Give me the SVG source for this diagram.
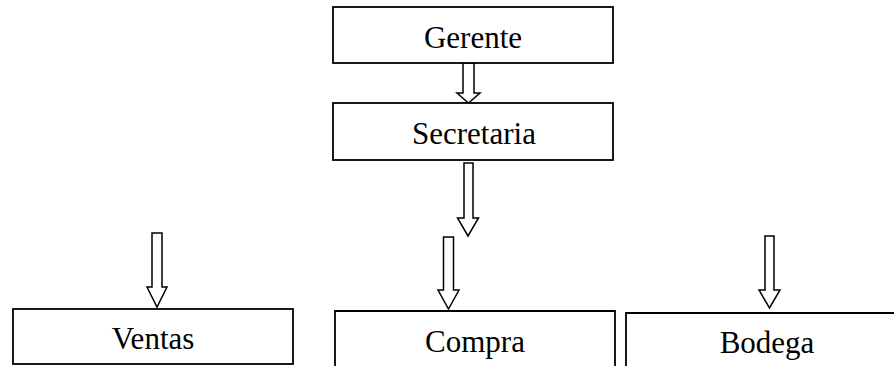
<svg xmlns="http://www.w3.org/2000/svg" width="894" height="366" viewBox="0 0 894 366">
<style>
.box{fill:#fff;stroke:#000;stroke-width:1.8}
.arr{fill:#fff;stroke:#000;stroke-width:1.5;stroke-linejoin:miter}
.lbl{font-family:"Liberation Serif","Times New Roman",serif;font-size:31px;fill:#000;text-anchor:middle}
</style>
<rect width="894" height="366" fill="#fff"/>
<g id="connectors">
<path class="arr" d="M463,63 V93 H457 L468.5,103 L480,93 H474 V63 Z"/>
<path class="arr" d="M464,163 V218 H457.5 L468,236 L478.5,218 H473 V163 Z"/>
<path class="arr" d="M152,233 V287 H147 L157,307 L167,287 H162 V233 Z"/>
<path class="arr" d="M443.5,237 V290 H438 L448.5,309 L459,290 H453.5 V237 Z"/>
<path class="arr" d="M765,236 V290 H759 L769.5,308 L780,290 H774 V236 Z"/>
</g>
<g id="gerente">
<rect class="box" x="333" y="7" width="280" height="56"/>
<text class="lbl" x="473" y="47.5">Gerente</text>
</g>
<g id="secretaria">
<rect class="box" x="333" y="103" width="280" height="57"/>
<text class="lbl" x="474" y="143.5">Secretaria</text>
</g>
<g id="ventas">
<rect class="box" x="13" y="309" width="280" height="55"/>
<text class="lbl" x="153" y="348.5">Ventas</text>
</g>
<g id="compra">
<path class="box" d="M335,370 V311 H615 V370"/>
<text class="lbl" x="475" y="352">Compra</text>
</g>
<g id="bodega">
<path class="box" d="M626,370 V313 H900"/>
<text class="lbl" x="767" y="353">Bodega</text>
</g>
</svg>
